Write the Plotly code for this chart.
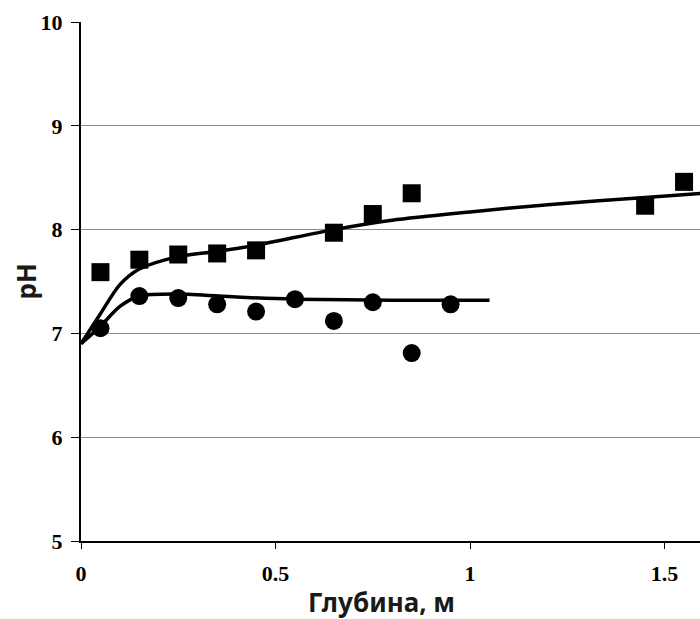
import plotly.graph_objects as go

# Measured data
depth_sq = [0.05, 0.15, 0.25, 0.35, 0.45, 0.65, 0.75, 0.85, 1.45, 1.55]
ph_sq = [7.59, 7.71, 7.76, 7.77, 7.80, 7.97, 8.15, 8.35, 8.23, 8.46]

depth_ci = [0.05, 0.15, 0.25, 0.35, 0.45, 0.55, 0.65, 0.75, 0.85, 0.95]
ph_ci = [7.05, 7.36, 7.34, 7.28, 7.21, 7.33, 7.12, 7.30, 6.81, 7.28]

# Trend lines
trend_sq_x = [0, 0.05, 0.1, 0.15, 0.25, 0.35, 0.45, 0.65, 0.8, 1.0, 1.2, 1.45, 1.6]
trend_sq_y = [6.9, 7.19, 7.47, 7.62, 7.74, 7.79, 7.85, 8.0, 8.09, 8.17, 8.24, 8.31, 8.35]

trend_ci_x = [0, 0.05, 0.1, 0.15, 0.25, 0.4, 0.55, 0.8, 1.05]
trend_ci_y = [6.9, 7.07, 7.26, 7.36, 7.38, 7.35, 7.33, 7.32, 7.32]

x_ticks = [0, 0.5, 1, 1.5]
x_tick_labels = ["0", "0.5", "1", "1.5"]
y_ticks = [5, 6, 7, 8, 9, 10]

fig = go.Figure()
for tx, ty in ((trend_sq_x, trend_sq_y), (trend_ci_x, trend_ci_y)):
    fig.add_trace(go.Scatter(x=tx, y=ty, mode="lines",
                             line=dict(color="black", width=3.5, shape="spline", smoothing=0.8),
                             showlegend=False, hoverinfo="skip"))
fig.add_trace(go.Scatter(x=depth_sq, y=ph_sq, mode="markers",
                         marker=dict(symbol="square", size=18, color="black"),
                         showlegend=False))
fig.add_trace(go.Scatter(x=depth_ci, y=ph_ci, mode="markers",
                         marker=dict(symbol="circle", size=18, color="black"),
                         showlegend=False))

tickfont = dict(family="Liberation Serif", size=22, color="black", weight="bold")
titlefont = dict(family="Noto Sans", size=26, color="#1a1a1a", weight="bold")

fig.update_layout(
    width=700, height=619,
    margin=dict(l=81, r=0, t=22, b=78),
    plot_bgcolor="white", paper_bgcolor="white",
    showlegend=False,
    xaxis=dict(range=[0, 1.591], tickvals=x_ticks, ticktext=x_tick_labels,
               showgrid=False, zeroline=False, showline=True, linecolor="black",
               linewidth=2, ticks="outside", ticklen=6, tickcolor="black",
               tickfont=tickfont, ticklabelstandoff=6),
    yaxis=dict(range=[5, 10], tickvals=y_ticks,
               showgrid=True, gridcolor="#8a8a8a", gridwidth=1,
               zeroline=False, showline=True, linecolor="black", linewidth=2,
               ticks="outside", ticklen=8, tickcolor="black",
               tickfont=tickfont, ticklabelstandoff=4),
    annotations=[
        dict(text="Глубина, м", xref="paper", yref="paper", x=0.485, y=0,
             xanchor="center", yanchor="middle", yshift=-61, showarrow=False,
             font=titlefont),
        dict(text="pH", xref="paper", yref="paper", x=0, y=0.5,
             xanchor="center", yanchor="middle", xshift=-56, textangle=-90,
             showarrow=False, font=titlefont),
    ],
)

fig.write_html("out.html",
               config={"displayModeBar": False},
               post_script="document.body.style.margin='0';document.body.style.overflow='hidden';")
